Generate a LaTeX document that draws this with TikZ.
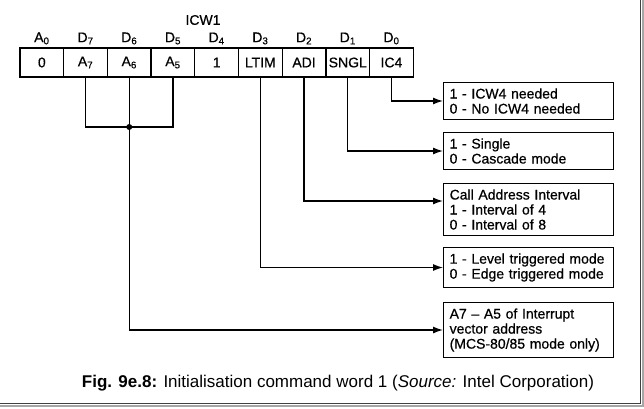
\documentclass[tikz,border=0pt]{standalone}
\usepackage{fontspec}
\setmainfont{Liberation Sans}
\newfontfamily\figfont[Ligatures=TeX, FakeBold=0.6]{Liberation Sans}
\usetikzlibrary{arrows.meta,positioning}

\begin{document}
\begin{tikzpicture}[
	x=1pt, y=-1pt,
	font=\figfont\fontsize{14}{15}\selectfont,
	line width=1.3pt,
	cell/.style   = {draw, minimum width=43.7pt, minimum height=29pt, inner sep=0pt, outer sep=0pt, anchor=north west},
	bitlbl/.style = {inner sep=0pt},
	info/.style   = {draw, anchor=west, align=left, text width=158pt, minimum width=170pt, inner xsep=6pt, inner ysep=6pt},
	>={Latex[length=10pt,width=7pt]}]

	\useasboundingbox (0,0) rectangle (644,408);

	% Register cells of the command word, bit names above them
	\foreach \i/\txt/\bit in {0/0/A\textsubscript{0}, 1/A\textsubscript{7}/D\textsubscript{7}, 2/A\textsubscript{6}/D\textsubscript{6},
		3/A\textsubscript{5}/D\textsubscript{5}, 4/1/D\textsubscript{4}, 5/LTIM/D\textsubscript{3},
		6/ADI/D\textsubscript{2}, 7/SNGL/D\textsubscript{1}, 8/IC4/D\textsubscript{0}}
	{
		\node[cell] (c\i) at ({20+43.7*\i},48) {\txt};
		\node[bitlbl, above=3pt of c\i] (b\i) {\bit};
	}
	\node (icw) at (203,20) {ICW1};

	% Meaning of each bit
	\node[info] (r0) at (443,101) {1 - ICW4 needed\\0 - No ICW4 needed};
	\node[info] (r1) at (443,151) {1 - Single\\0 - Cascade mode};
	\node[info] (r2) at (443,209.5) {Call Address Interval\\1 - Interval of 4\\0 - Interval of 8};
	\node[info] (r3) at (443,267.5) {1 - Level triggered mode\\0 - Edge triggered mode};
	\node[info] (r4) at (443,330) {A7 -- A5 of Interrupt\\vector address\\(MCS-80/85 mode only)};

	% Lines from the cells to their boxes
	\foreach \c/\r in {8/0,7/1,5/3}
	\draw[->] (c\c.south) |- (r\r.west);
	\draw[->] (c6.south) |- ([yshift=8.5pt]r2.west);

	\path (c2.south) ++(0,50) coordinate (j);
	\draw (c1.south) |- (j) -| (c3.south);
	\fill (j) circle (3pt);
	\draw[->] (c2.south) |- (r4.west);

	% Caption
	\node[font=\rmfamily\fontsize{17}{18}\selectfont] (cap) at (338,383) {\textbf{Fig. 9e.8:} Initialisation command word 1 (\textit{Source:} Intel Corporation)};

	% Shadow of the frame
	\draw[line width=1.5pt, black!75] (640.5,0) -- (640.5,403.5) -- (0,403.5);
	\draw[line width=2pt, black!35] (642.5,0) -- (642.5,405.5) -- (0,405.5);

\end{tikzpicture}
\end{document}
